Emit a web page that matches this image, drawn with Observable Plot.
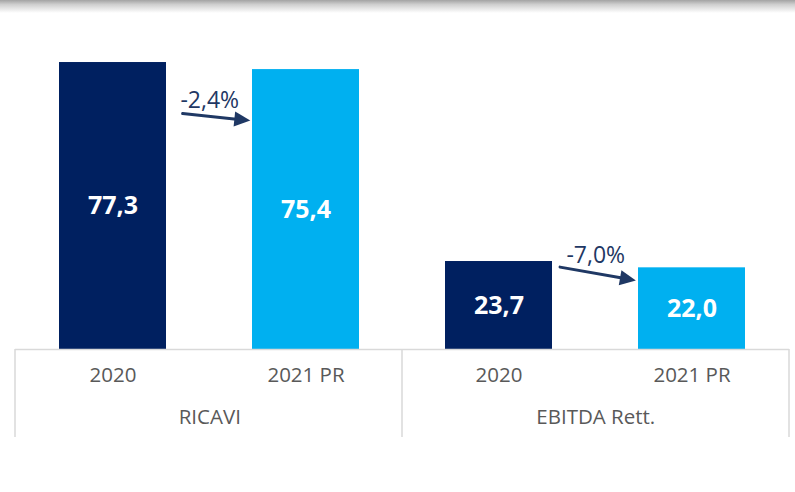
<!DOCTYPE html>
<html>
<head>
<meta charset="utf-8">
<script src="https://cdn.jsdelivr.net/npm/d3@7"></script>
<script src="https://cdn.jsdelivr.net/npm/@observablehq/plot@0.6"></script>
<style>
  html, body { margin: 0; padding: 0; background: #fff; }
  #wrap { position: relative; width: 795px; height: 492px; overflow: hidden; }
  #shadow { position: absolute; left: 0; top: 0; width: 795px; height: 13px;
    background: linear-gradient(to bottom, #a3a3a3 0%, #cfcfcf 35%, rgba(255,255,255,0) 100%); pointer-events: none; }
  svg { font-family: "Open Sans", sans-serif; }
</style>
</head>
<body>
<div id="wrap"><div id="chart"></div><div id="shadow"></div></div>
<script>
// ---- data ----
const groups = ["RICAVI", "EBITDA Rett."];
const years = ["2020", "2021 PR"];
const ricaviValues = [77.3, 75.4];
const ebitdaValues = [23.7, 22.0];
const changeLabels = ["-2,4%", "-7,0%"];
// arrow endpoints (value units, at bar centres) and label heights
const arrowStart = [65.5, 25.1];
const arrowEnd = [60.1, 15.9];
const labelY = [67.1, 25.4];

const colors = {"2020": "#002060", "2021 PR": "#00B0F0"};

// build table
const valuesByGroup = [ricaviValues, ebitdaValues];
const data = [];
groups.forEach((g, gi) => years.forEach((y, yi) => {
  data.push({group: g, year: y, key: g + "|" + y, value: valuesByGroup[gi][yi]});
}));
const keys = data.map(d => d.key);
const changes = groups.map((g, gi) => ({
  from: g + "|" + years[0], to: g + "|" + years[1],
  y1: arrowStart[gi], y2: arrowEnd[gi], ly: labelY[gi], text: changeLabels[gi]
}));

const W = 795, H = 492, ML = 15, MR = 6, MT = 52, MB = 143;
const step = (W - ML - MR) / keys.length;
const gridColor = "#d9d9d9";
const labelColor = "#595959";
const arrowColor = "#1f3864";

// custom mark: category table grid below the axis
function tableGrid(index, scales, values, dims) {
  const g = d3.create("svg:g");
  const y0 = dims.height - dims.marginBottom;
  const y1 = y0 + 88;
  const xs = [dims.marginLeft, dims.marginLeft + step * years.length, dims.width - dims.marginRight];
  for (const x of xs) {
    g.append("line").attr("x1", x).attr("x2", x).attr("y1", y0).attr("y2", y1)
      .attr("stroke", gridColor).attr("stroke-width", 1.5);
  }
  return g.node();
}

const plot = Plot.plot({
  width: W, height: H,
  marginLeft: ML, marginRight: MR, marginTop: MT, marginBottom: MB,
  x: {type: "band", domain: keys, paddingInner: 0.447, paddingOuter: 0.2235, axis: null},
  y: {domain: [0, 80], axis: null},
  marks: [
    Plot.barY(data, {x: "key", y: "value", fill: d => colors[d.year]}),
    Plot.text(data, {x: "key", y: d => d.value / 2, text: d => d.value.toFixed(1).replace(".", ","),
      fill: "white", fontWeight: "bold", fontSize: 25}),
    Plot.ruleY([0], {stroke: gridColor, strokeWidth: 1.5}),
    tableGrid,
    Plot.text(data, {x: "key", text: "year", frameAnchor: "bottom", dy: 32, fontSize: 20.5, fill: labelColor}),
    Plot.text(groups, {x: d => d + "|" + years[0], text: d => d, frameAnchor: "bottom", dy: 74, dx: step / 2, fontSize: 20.5, fill: labelColor}),
    Plot.arrow(changes.slice(0, 1), {x1: "from", x2: "to", y1: "y1", y2: "y2", insetStart: 70, insetEnd: 56,
      stroke: arrowColor, strokeWidth: 3, headLength: 0}),
    Plot.arrow(changes.slice(1), {x1: "from", x2: "to", y1: "y1", y2: "y2", insetStart: 62, insetEnd: 57,
      stroke: arrowColor, strokeWidth: 3, headLength: 0}),
    Plot.text(changes, {x: "from", y: "ly", text: "text", dx: step / 2, fontSize: 23, fill: arrowColor})
  ]
});

// turn the arrow shafts into arrows with a filled triangular head
const HEAD_LEN = 16, HEAD_HALF = 7.5;
d3.select(plot).selectAll('g[aria-label="arrow"] path').each(function () {
  const nums = (this.getAttribute("d").match(/-?\d+(\.\d+)?(e-?\d+)?/g) || []).map(Number);
  if (nums.length < 4) return;
  const [x1, y1] = nums;
  const x2 = nums[nums.length - 2], y2 = nums[nums.length - 1];
  const dx = x2 - x1, dy = y2 - y1, len = Math.hypot(dx, dy);
  const ux = dx / len, uy = dy / len;
  const bx = x2 - ux * HEAD_LEN, by = y2 - uy * HEAD_LEN;
  this.setAttribute("d", `M${x1},${y1}L${bx + ux * 2},${by + uy * 2}`);
  const tri = document.createElementNS("http://www.w3.org/2000/svg", "path");
  tri.setAttribute("d", `M${x2},${y2}L${bx - uy * HEAD_HALF},${by + ux * HEAD_HALF}L${bx + uy * HEAD_HALF},${by - ux * HEAD_HALF}Z`);
  tri.setAttribute("fill", arrowColor);
  tri.setAttribute("stroke", "none");
  this.parentNode.appendChild(tri);
});

document.getElementById("chart").appendChild(plot);
</script>
</body>
</html>
